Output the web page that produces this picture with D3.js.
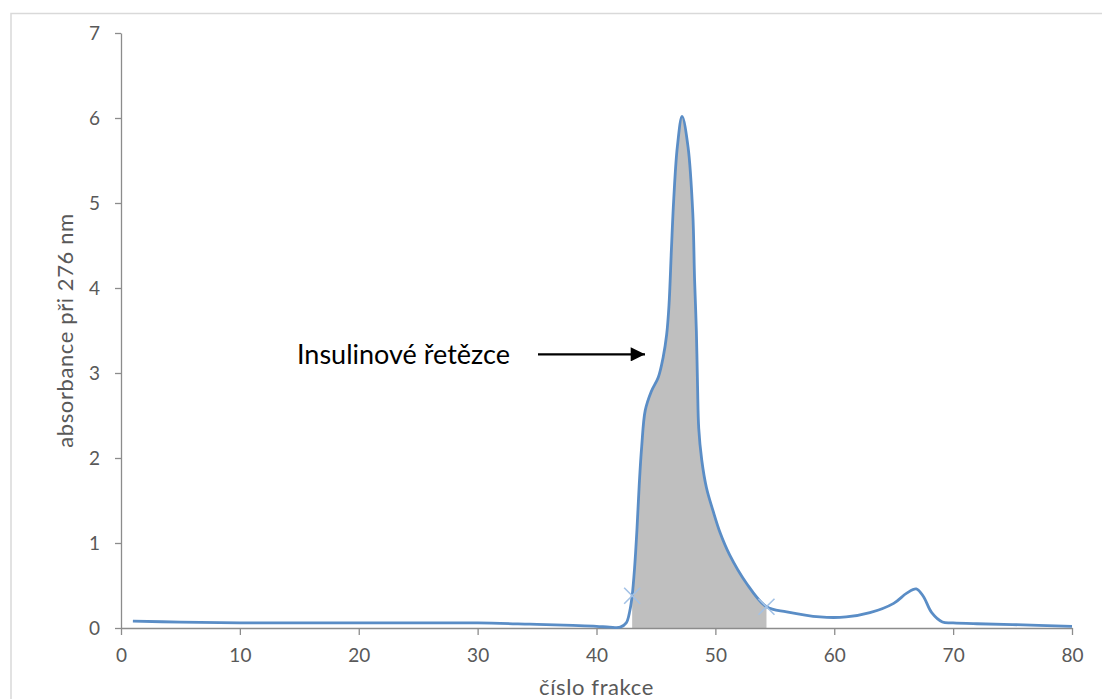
<!DOCTYPE html>
<html>
<head>
<meta charset="utf-8">
<script src="https://cdn.jsdelivr.net/npm/d3@7"></script>
<style>
  body { margin: 0; background: #fff; }
  .axis path, .axis line { stroke: #8c8c8c; stroke-width: 1.3; }
  .axis text { fill: #595959; font-family: Lato, "Open Sans", sans-serif; font-size: 19px; }
  .axis-title { fill: #595959; font-family: Lato, "Open Sans", sans-serif; font-size: 22px; letter-spacing: 0.6px; }
</style>
</head>
<body>
<div id="chart"></div>
<script>
/* CONSTANTS AND GLOBALS */
const width = 1102,
  height = 699,
  margin = { top: 33, bottom: 71, left: 121, right: 30 };

// elution profile: fraction number vs absorbance at 276 nm
const fractions = [1, 5, 10, 15, 20, 25, 30, 34.4, 38, 40, 41.1, 42, 42.5, 42.8, 43,
  43.2, 43.4, 43.6, 43.8, 44.1, 44.6, 45.2, 45.6, 45.9, 46.1, 46.3, 46.5, 46.8, 47.2, 47.7,
  48.1, 48.25, 48.4, 48.5, 48.6, 48.85, 49.25, 49.8, 50.4, 51.2, 52.6, 54.3, 56, 58.8, 61,
  63, 65, 66.1, 66.9, 67.5, 68.2, 69.1, 70, 72, 75, 80];
const absorbance = [0.08, 0.07, 0.06, 0.06, 0.06, 0.06, 0.06, 0.045, 0.03, 0.02, 0.01, 0.01, 0.06, 0.2, 0.38,
  0.7, 1.15, 1.7, 2.13, 2.56, 2.78, 2.95, 3.18, 3.45, 3.8, 4.45, 5.05, 5.66, 6.02, 5.66,
  4.88, 4.1, 3.5, 2.85, 2.35, 1.98, 1.65, 1.38, 1.12, 0.86, 0.53, 0.25, 0.19, 0.13, 0.13,
  0.18, 0.29, 0.41, 0.46, 0.37, 0.18, 0.07, 0.06, 0.05, 0.04, 0.02];

// integrated region (insulin chains) and its boundary markers
const peakStart = 43, peakEnd = 54.3;
const markerFractions = [43, 54.3];
const markerValues = [0.38, 0.25];

const xTicks = [0, 10, 20, 30, 40, 50, 60, 70, 80];
const yTicks = [0, 1, 2, 3, 4, 5, 6, 7];

const xTitle = "číslo frakce";
const yTitle = "absorbance při 276 nm";
const annotation = "Insulinové řetězce";
const arrowLevel = 3.22;

const data = fractions.map((f, i) => ({ x: f, y: absorbance[i] }));

const svg = d3.select("#chart")
  .append("svg")
  .attr("width", width)
  .attr("height", height);

// outer chart border
svg.append("rect")
  .attr("x", 11)
  .attr("y", 13.5)
  .attr("width", width)
  .attr("height", height)
  .attr("fill", "none")
  .attr("stroke", "#d9d9d9")
  .attr("stroke-width", 1.5);

const xScale = d3.scaleLinear()
  .domain([0, 80])
  .range([margin.left, width - margin.right]);

const yScale = d3.scaleLinear()
  .domain([0, 7])
  .range([height - margin.bottom, margin.top]);

const xAxis = d3.axisBottom(xScale).tickValues(xTicks).tickSize(7).tickSizeOuter(0).tickPadding(14);
const yAxis = d3.axisLeft(yScale).tickValues(yTicks).tickSize(6).tickSizeOuter(0).tickPadding(15)
  .tickFormat(d3.format("d"));

const curve = d3.curveCatmullRom.alpha(0.5);

// shaded area under the peak
svg.append("clipPath")
  .attr("id", "peak-clip")
  .append("rect")
  .attr("x", xScale(peakStart))
  .attr("y", margin.top)
  .attr("width", xScale(peakEnd) - xScale(peakStart))
  .attr("height", height - margin.top - margin.bottom);

const areaFunc = d3.area()
  .curve(curve)
  .x(d => xScale(d.x))
  .y0(yScale(0))
  .y1(d => yScale(d.y));

svg.append("path")
  .datum(data)
  .attr("clip-path", "url(#peak-clip)")
  .attr("fill", "#bfbfbf")
  .attr("d", areaFunc);

svg.append("g")
  .attr("class", "axis x-axis")
  .attr("transform", `translate(0,${yScale(0)})`)
  .call(xAxis);

svg.append("g")
  .attr("class", "axis y-axis")
  .attr("transform", `translate(${margin.left},0)`)
  .call(yAxis);

svg.append("text")
  .attr("class", "axis-title")
  .attr("x", (xScale(0) + xScale(80)) / 2)
  .attr("y", 695)
  .attr("text-anchor", "middle")
  .text(xTitle);

svg.append("text")
  .attr("class", "axis-title")
  .attr("transform", `translate(73,${(yScale(0) + yScale(7)) / 2}) rotate(-90)`)
  .attr("text-anchor", "middle")
  .text(yTitle);

const lineFunc = d3.line()
  .curve(curve)
  .x(d => xScale(d.x))
  .y(d => yScale(d.y));

svg.append("path")
  .datum(data)
  .attr("fill", "none")
  .attr("stroke", "#5a8dc6")
  .attr("stroke-width", 2.8)
  .attr("d", lineFunc);

// X markers at the integration limits
svg.selectAll("path.marker")
  .data(markerFractions.map((f, i) => ({ x: f, y: markerValues[i] })))
  .join("path")
  .attr("class", "marker")
  .attr("transform", d => `translate(${xScale(d.x)},${yScale(d.y)})`)
  .attr("d", "M-8,-8L8,8M-8,8L8,-8")
  .attr("stroke", "#a3c2e6")
  .attr("stroke-width", 1.6)
  .attr("fill", "none");

// annotation with arrow
svg.append("defs").append("marker")
  .attr("id", "arrowhead")
  .attr("viewBox", "0 0 10 10")
  .attr("refX", 10)
  .attr("refY", 5)
  .attr("markerWidth", 7.5)
  .attr("markerHeight", 6.5)
  .attr("markerUnits", "strokeWidth")
  .attr("orient", "auto")
  .append("path")
  .attr("d", "M0,0L10,5L0,10Z")
  .attr("fill", "#000");

svg.append("text")
  .attr("x", 297)
  .attr("y", 364)
  .attr("font-family", "Lato, 'Open Sans', sans-serif")
  .attr("font-size", 27)
  .attr("fill", "#000")
  .text(annotation);

svg.append("line")
  .attr("x1", 538)
  .attr("y1", yScale(arrowLevel))
  .attr("x2", 645)
  .attr("y2", yScale(arrowLevel))
  .attr("stroke", "#000")
  .attr("stroke-width", 2.2)
  .attr("marker-end", "url(#arrowhead)");
</script>
</body>
</html>
